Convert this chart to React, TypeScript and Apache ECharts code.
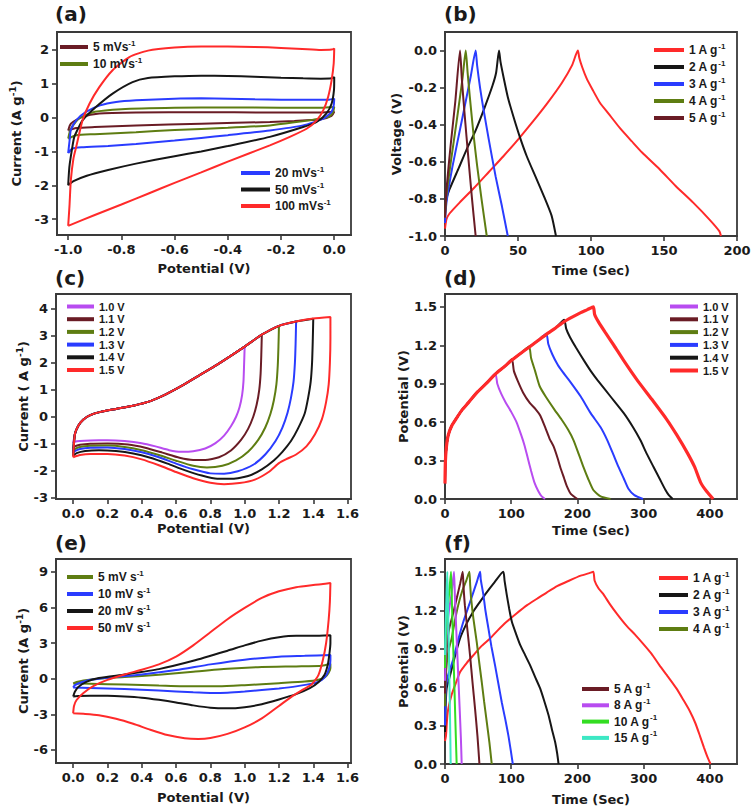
import React, { useEffect, useRef } from 'react';
import * as echarts from 'echarts';

type P = [number, number][];

const RED = '#ff2a2a';
const BLACK = '#161616';
const BLUE = '#2a3cff';
const OLIVE = '#5e7d12';
const BROWN = '#6a1c25';
const PURPLE = '#b84cf0';
const GREEN = '#33dd22';
const CYAN = '#3de8c4';
const TXT = '#1a1a1a';
const AX = '#3a3a3a';
const FONT_TICK = 'DejaVu Sans';
const FONT_TXT = 'Liberation Sans';

// ---------- (a) CV, scan rates ----------
const A_NAMES = ['5 mVs-1', '10 mVs-1', '20 mVs-1', '50 mVs-1', '100 mVs-1'];
const A_5: P = [[-1.0, -0.38], [-0.99, -0.18], [-0.946, 0.02], [-0.883, 0.12], [-0.745, 0.15], [-0.5, 0.16], [-0.25, 0.15], [-0.05, 0.15], [0, 0.17],
  [-0.01, 0.05], [-0.05, -0.05], [-0.15, -0.1], [-0.242, -0.13], [-0.5, -0.18], [-0.745, -0.23], [-0.9, -0.28], [-0.97, -0.31], [-1.0, -0.38]];
const A_10: P = [[-1.0, -0.62], [-0.995, -0.45], [-0.99, -0.33], [-0.96, -0.03], [-0.9, 0.17], [-0.8, 0.25], [-0.6, 0.29], [-0.4, 0.3], [-0.2, 0.29], [-0.05, 0.29], [0, 0.31],
  [-0.005, 0.15], [-0.02, 0.03], [-0.054, -0.03], [-0.15, -0.14], [-0.242, -0.23], [-0.4, -0.3], [-0.6, -0.37], [-0.745, -0.43], [-0.9, -0.49], [-0.97, -0.52], [-1.0, -0.62]];
const A_20: P = [[-1.0, -1.05], [-0.995, -0.7], [-0.99, -0.37], [-0.97, -0.08], [-0.933, 0.17], [-0.88, 0.36], [-0.82, 0.46], [-0.745, 0.51], [-0.6, 0.56], [-0.5, 0.57], [-0.4, 0.56], [-0.3, 0.54], [-0.2, 0.53], [-0.1, 0.53], [-0.02, 0.53], [0, 0.56],
  [-0.002, 0.36], [-0.01, 0.17], [-0.041, -0.03], [-0.117, -0.23], [-0.242, -0.38], [-0.4, -0.52], [-0.5, -0.6], [-0.6, -0.68], [-0.745, -0.78], [-0.85, -0.84], [-0.95, -0.88], [-0.985, -0.92], [-1.0, -1.05]];
const A_50: P = [[-1.0, -2.0], [-0.997, -1.6], [-0.994, -1.36], [-0.985, -0.9], [-0.977, -0.57], [-0.96, -0.28], [-0.946, -0.08], [-0.896, 0.31], [-0.833, 0.71], [-0.758, 1.05], [-0.7, 1.17], [-0.6, 1.22], [-0.5, 1.24], [-0.4, 1.23], [-0.3, 1.21], [-0.2, 1.18], [-0.117, 1.16], [-0.05, 1.15], [-0.01, 1.16], [0, 1.2],
  [-0.001, 0.81], [-0.01, 0.41], [-0.03, 0.12], [-0.066, -0.13], [-0.117, -0.28], [-0.242, -0.57], [-0.4, -0.84], [-0.5, -1.0], [-0.6, -1.14], [-0.745, -1.36], [-0.85, -1.55], [-0.93, -1.72], [-0.98, -1.88], [-1.0, -2.0]];
const A_100: P = [[-1.0, -3.2], [-0.995, -2.6], [-0.99, -1.85], [-0.98, -1.2], [-0.97, -0.87], [-0.946, -0.08], [-0.92, 0.41], [-0.883, 0.9], [-0.833, 1.4], [-0.77, 1.79], [-0.7, 1.98], [-0.6, 2.07], [-0.5, 2.1], [-0.4, 2.1], [-0.3, 2.09], [-0.2, 2.06], [-0.12, 2.03], [-0.05, 2.0], [-0.01, 2.01], [0, 2.04],
  [-0.002, 1.6], [-0.01, 1.1], [-0.023, 0.61], [-0.041, 0.22], [-0.066, -0.08], [-0.104, -0.33], [-0.167, -0.57], [-0.242, -0.82], [-0.4, -1.3], [-0.5, -1.62], [-0.6, -1.93], [-0.7, -2.25], [-0.8, -2.57], [-0.9, -2.88], [-1.0, -3.2]];

// ---------- (b) GCD, negative electrode ----------
const B_NAMES = ['1 A g-1', '2 A g-1', '3 A g-1', '4 A g-1', '5 A g-1'];
const B_1: P = [[0, -0.96], [1, -0.91], [3, -0.88], [10, -0.82], [20, -0.74], [30, -0.655], [40, -0.57], [50, -0.48], [60, -0.385], [70, -0.285], [80, -0.175], [87, -0.08], [91, 0],
  [92, -0.04], [94, -0.09], [97, -0.15], [101, -0.21], [106, -0.28], [112, -0.34], [120, -0.42], [128, -0.49], [135, -0.55], [147, -0.64], [158, -0.73], [170, -0.82], [181, -0.91], [188, -0.975], [189, -1.0]];
const B_2: P = [[0, -0.88], [1, -0.8], [3, -0.75], [9.6, -0.63], [15, -0.53], [21, -0.43], [27, -0.31], [32.5, -0.19], [35, -0.12], [37, 0],
  [38, -0.06], [40, -0.14], [43, -0.25], [47, -0.36], [51, -0.46], [56, -0.57], [62, -0.68], [68, -0.79], [73, -0.89], [76, -1.0]];
const B_3: P = [[0, -0.93], [1, -0.82], [5, -0.63], [12, -0.36], [17.6, -0.14], [21, 0],
  [22, -0.08], [24, -0.2], [26, -0.3], [30, -0.48], [34.7, -0.68], [39, -0.84], [43, -1.0]];
const B_4: P = [[0, -0.9], [1, -0.78], [4, -0.6], [8, -0.38], [12, -0.15], [14.2, 0],
  [15.5, -0.12], [17, -0.25], [19.5, -0.45], [22, -0.62], [25, -0.8], [28.6, -1.0]];
const B_5: P = [[0, -0.9], [1, -0.75], [4, -0.5], [7, -0.28], [10.3, 0],
  [11.5, -0.15], [13.5, -0.35], [16, -0.58], [18.5, -0.8], [21, -1.0]];

// ---------- (c) CV, potential windows ----------
const C_NAMES = ['1.0 V', '1.1 V', '1.2 V', '1.3 V', '1.4 V', '1.5 V'];
const C_UP: P = [[0.01, -0.65], [0.03, -0.33], [0.06, -0.1], [0.1, 0.06], [0.16, 0.18], [0.25, 0.29], [0.35, 0.41], [0.45, 0.58], [0.54, 0.83], [0.64, 1.17], [0.74, 1.55], [0.84, 1.93], [0.93, 2.3], [1.0, 2.6], [1.1, 3.04], [1.2, 3.37], [1.3, 3.53], [1.4, 3.64], [1.5, 3.7]];
const C_10: P = [[1.0, 2.6], [0.997, 2.0], [0.993, 1.3], [0.985, 0.8], [0.97, 0.35], [0.95, 0.0], [0.92, -0.35], [0.88, -0.7], [0.83, -0.98], [0.77, -1.18], [0.7, -1.28], [0.63, -1.3], [0.56, -1.24], [0.48, -1.1], [0.4, -0.98], [0.3, -0.9], [0.2, -0.87], [0.1, -0.88], [0.04, -0.9], [0.01, -0.93], [0, -0.98]];
const C_11: P = [[1.1, 3.04], [1.097, 2.3], [1.093, 1.6], [1.085, 1.0], [1.07, 0.45], [1.05, 0.0], [1.02, -0.45], [0.98, -0.85], [0.92, -1.25], [0.85, -1.5], [0.77, -1.6], [0.7, -1.6], [0.62, -1.52], [0.52, -1.33], [0.42, -1.15], [0.32, -1.03], [0.2, -0.99], [0.1, -1.0], [0.04, -1.04], [0.01, -1.1], [0, -1.18]];
const C_12: P = [[1.2, 3.37], [1.197, 2.6], [1.193, 1.9], [1.185, 1.2], [1.17, 0.6], [1.15, 0.1], [1.12, -0.4], [1.08, -0.85], [1.02, -1.3], [0.95, -1.62], [0.87, -1.82], [0.78, -1.88], [0.7, -1.82], [0.6, -1.63], [0.5, -1.42], [0.4, -1.24], [0.3, -1.12], [0.2, -1.07], [0.1, -1.08], [0.04, -1.12], [0.01, -1.2], [0, -1.28]];
const C_13: P = [[1.3, 3.53], [1.297, 2.7], [1.293, 2.0], [1.285, 1.3], [1.27, 0.7], [1.25, 0.15], [1.22, -0.4], [1.18, -0.9], [1.12, -1.4], [1.05, -1.78], [0.96, -2.02], [0.88, -2.11], [0.8, -2.1], [0.7, -1.95], [0.6, -1.74], [0.5, -1.5], [0.4, -1.32], [0.3, -1.2], [0.2, -1.14], [0.1, -1.15], [0.04, -1.2], [0.01, -1.28], [0, -1.36]];
const C_14: P = [[1.4, 3.63], [1.397, 2.8], [1.393, 2.0], [1.385, 1.3], [1.37, 0.7], [1.35, 0.12], [1.31, -0.45], [1.27, -0.9], [1.22, -1.3], [1.17, -1.62], [1.1, -1.95], [1.02, -2.2], [0.93, -2.3], [0.84, -2.3], [0.75, -2.18], [0.65, -1.98], [0.55, -1.74], [0.45, -1.52], [0.35, -1.36], [0.25, -1.27], [0.15, -1.24], [0.07, -1.27], [0.02, -1.35], [0, -1.45]];
const C_15: P = [[1.5, 3.7], [1.5, 2.9], [1.497, 2.0], [1.49, 1.2], [1.475, 0.55], [1.45, -0.1], [1.41, -0.65], [1.36, -1.1], [1.3, -1.4], [1.24, -1.58], [1.2, -1.72], [1.14, -2.05], [1.06, -2.33], [0.97, -2.46], [0.88, -2.5], [0.8, -2.45], [0.7, -2.28], [0.6, -2.05], [0.5, -1.8], [0.4, -1.58], [0.3, -1.44], [0.2, -1.38], [0.1, -1.38], [0.04, -1.42], [0, -1.5]];

// ---------- (d) GCD, potential windows ----------
const D_NAMES = ['1.0 V', '1.1 V', '1.2 V', '1.3 V', '1.4 V', '1.5 V'];
const D_CHARGE: P = [[0, 0.12], [0.5, 0.28], [2, 0.4], [5, 0.5], [10, 0.57], [16, 0.62], [25, 0.69], [35, 0.75], [48, 0.83], [62, 0.9], [76, 0.975], [90, 1.035], [101, 1.085], [115, 1.14], [127, 1.185], [140, 1.235], [153, 1.285], [167, 1.335], [180, 1.385], [192, 1.42], [205, 1.455], [215, 1.478]];
const D_10: P = [[76, 0.98], [79, 0.9], [85, 0.82], [92, 0.75], [100, 0.68], [108, 0.6], [115, 0.5], [120, 0.42], [125, 0.32], [130, 0.22], [135, 0.13], [141, 0.06], [146, 0.02], [151, 0]];
const D_11: P = [[101, 1.09], [104, 1.0], [110, 0.92], [118, 0.83], [128, 0.75], [137, 0.7], [144, 0.65], [152, 0.55], [158, 0.47], [164, 0.41], [170, 0.32], [174, 0.25], [180, 0.16], [184, 0.1], [190, 0.04], [200, 0]];
const D_12: P = [[127, 1.19], [130, 1.1], [136, 1.0], [143, 0.88], [152, 0.8], [165, 0.7], [176, 0.62], [186, 0.54], [194, 0.46], [202, 0.35], [209, 0.25], [216, 0.16], [224, 0.07], [235, 0.02], [250, 0]];
const D_13: P = [[153, 1.29], [156, 1.21], [162, 1.13], [170, 1.05], [178, 0.99], [187, 0.93], [205, 0.8], [220, 0.67], [235, 0.56], [245, 0.46], [254, 0.35], [262, 0.25], [270, 0.16], [277, 0.08], [286, 0.03], [299, 0]];
const D_14: P = [[180, 1.4], [183, 1.33], [189, 1.26], [198, 1.18], [210, 1.08], [220, 1.0], [230, 0.93], [250, 0.8], [270, 0.67], [284, 0.56], [295, 0.46], [305, 0.35], [315, 0.25], [324, 0.16], [333, 0.07], [338, 0.03], [344, 0]];
const D_15: P = [[224, 1.5], [226, 1.44], [232, 1.38], [242, 1.3], [255, 1.2], [270, 1.08], [290, 0.93], [312, 0.78], [335, 0.62], [350, 0.5], [366, 0.36], [377, 0.25], [386, 0.13], [395, 0.06], [405, 0]];

// ---------- (e) CV, device scan rates ----------
const E_NAMES = ['5 mV s-1', '10 mV s-1', '20 mV s-1', '50 mV s-1'];
const E_5: P = [[0, -0.4], [0.02, -0.28], [0.06, -0.15], [0.15, 0.0], [0.3, 0.13], [0.5, 0.32], [0.7, 0.58], [0.9, 0.83], [1.1, 0.98], [1.3, 1.03], [1.45, 1.08], [1.5, 1.25],
  [1.5, 0.9], [1.49, 0.5], [1.47, 0.15], [1.43, -0.1], [1.35, -0.25], [1.2, -0.38], [1.0, -0.55], [0.85, -0.65], [0.7, -0.65], [0.5, -0.58], [0.3, -0.5], [0.1, -0.43], [0, -0.4]];
const E_10: P = [[0, -0.75], [0.01, -0.55], [0.05, -0.3], [0.1, -0.1], [0.2, 0.08], [0.4, 0.35], [0.6, 0.72], [0.8, 1.2], [1.0, 1.6], [1.2, 1.85], [1.35, 1.92], [1.5, 2.0],
  [1.5, 1.6], [1.495, 1.0], [1.48, 0.4], [1.45, -0.1], [1.4, -0.4], [1.3, -0.65], [1.2, -0.82], [1.1, -0.95], [1.0, -1.08], [0.9, -1.18], [0.8, -1.2], [0.7, -1.15], [0.5, -1.0], [0.3, -0.87], [0.1, -0.78], [0, -0.75]];
const E_20: P = [[0, -1.5], [0.01, -1.1], [0.03, -0.7], [0.08, -0.25], [0.15, 0.05], [0.3, 0.35], [0.5, 0.8], [0.7, 1.5], [0.9, 2.35], [1.0, 2.8], [1.1, 3.2], [1.2, 3.48], [1.3, 3.6], [1.4, 3.6], [1.5, 3.65],
  [1.5, 3.0], [1.495, 2.2], [1.485, 1.2], [1.465, 0.3], [1.43, -0.3], [1.38, -0.8], [1.3, -1.3], [1.2, -1.75], [1.1, -2.15], [1.0, -2.4], [0.9, -2.5], [0.8, -2.45], [0.7, -2.25], [0.6, -2.0], [0.5, -1.78], [0.4, -1.6], [0.3, -1.5], [0.2, -1.45], [0.1, -1.45], [0.03, -1.47], [0, -1.5]];
const E_50: P = [[0, -2.92], [0.005, -2.3], [0.02, -1.8], [0.06, -1.2], [0.12, -0.6], [0.2, -0.1], [0.3, 0.35], [0.4, 0.75], [0.5, 1.2], [0.6, 1.85], [0.7, 2.8], [0.8, 3.9], [0.9, 5.0], [1.0, 5.95], [1.1, 6.8], [1.2, 7.35], [1.3, 7.7], [1.4, 7.88], [1.47, 7.98], [1.5, 8.05],
  [1.497, 6.5], [1.49, 5.0], [1.475, 3.0], [1.455, 1.5], [1.43, 0.3], [1.39, -0.5], [1.33, -1.0], [1.28, -1.45], [1.2, -2.3], [1.1, -3.35], [1.0, -4.1], [0.9, -4.65], [0.8, -5.0], [0.73, -5.08], [0.65, -5.02], [0.55, -4.75], [0.45, -4.3], [0.35, -3.8], [0.25, -3.38], [0.15, -3.08], [0.07, -2.97], [0, -2.92]];

// ---------- (f) GCD, device current densities ----------
const F_NAMES = ['1 A g-1', '2 A g-1', '3 A g-1', '4 A g-1', '5 A g-1', '8 A g-1', '10 A g-1', '15 A g-1'];
const F_1: P = [[0, 0.18], [1.5, 0.22], [4, 0.4], [10, 0.54], [17, 0.64], [23, 0.72], [33, 0.79], [43, 0.85], [55, 0.92], [68, 0.98], [80, 1.045], [93, 1.11], [108, 1.175], [124, 1.24], [139, 1.29], [154, 1.34], [170, 1.39], [187, 1.43], [205, 1.47], [218, 1.49], [224, 1.5],
  [226, 1.43], [232, 1.37], [238.6, 1.33], [248.7, 1.25], [260, 1.17], [274, 1.08], [287, 1.01], [299, 0.94], [312, 0.86], [324, 0.77], [337, 0.68], [349.5, 0.59], [360, 0.5], [370, 0.41], [378, 0.32], [385, 0.22], [391, 0.13], [396, 0.06], [401, 0]];
const F_2: P = [[0, 0.25], [1, 0.45], [2.5, 0.59], [7.6, 0.69], [15, 0.84], [22.7, 0.98], [32, 1.09], [42.8, 1.19], [52, 1.26], [63, 1.34], [75, 1.42], [88, 1.5],
  [90, 1.43], [93.3, 1.32], [97, 1.21], [101, 1.11], [107, 1.02], [113.5, 0.93], [121, 0.85], [128.6, 0.77], [136, 0.68], [143.7, 0.59], [150, 0.49], [156.4, 0.38], [161.5, 0.27], [166.4, 0.17], [169.5, 0.08], [171.5, 0]];
const F_3: P = [[0, 0.3], [1, 0.55], [3, 0.66], [7, 0.73], [12.6, 0.82], [20, 0.97], [27.7, 1.11], [35, 1.22], [42.8, 1.34], [48, 1.42], [53, 1.5],
  [54, 1.44], [56, 1.38], [58, 1.32], [61, 1.2], [65.5, 1.06], [70, 0.92], [75.6, 0.77], [80.5, 0.63], [85.8, 0.48], [91, 0.35], [95.8, 0.22], [99.5, 0.1], [102.4, 0]];
const F_4: P = [[0, 0.45], [1, 0.65], [3, 0.8], [6, 0.9], [10, 0.98], [15, 1.12], [20, 1.24], [26, 1.35], [32, 1.43], [36.8, 1.5],
  [38, 1.4], [39.5, 1.29], [43, 1.13], [48, 0.95], [51.5, 0.8], [55.5, 0.64], [59, 0.49], [63, 0.33], [67, 0.17], [70.6, 0]];
const F_5: P = [[0, 0.55], [1, 0.75], [3, 0.92], [6, 1.05], [12, 1.17], [18, 1.3], [23, 1.41], [26.7, 1.5],
  [28, 1.38], [30, 1.24], [34, 1.04], [37.8, 0.85], [41.5, 0.64], [45.4, 0.43], [49, 0.22], [52, 0]];
const F_8: P = [[0, 0.65], [1, 0.85], [3, 1.05], [6, 1.2], [10, 1.33], [13.6, 1.5],
  [15, 1.3], [17, 1.05], [19.5, 0.75], [22, 0.45], [24, 0.2], [25.2, 0]];
const F_10: P = [[0, 0.75], [1, 0.95], [3, 1.15], [6, 1.32], [9.1, 1.5],
  [10.5, 1.25], [12.5, 0.9], [14.5, 0.55], [16.3, 0.22], [17.6, 0]];
const F_15: P = [[0, 0.85], [1, 1.1], [2.5, 1.35], [3.5, 1.5],
  [4.5, 1.25], [6, 0.85], [7.5, 0.4], [8.6, 0]];

// ---------- tick values ----------
const A_XT = [-1.0, -0.8, -0.6, -0.4, -0.2, 0.0];
const A_YT = [-3, -2, -1, 0, 1, 2];
const B_XT = [0, 50, 100, 150, 200];
const B_YT = [-1.0, -0.8, -0.6, -0.4, -0.2, 0.0];
const C_XT = [0.0, 0.2, 0.4, 0.6, 0.8, 1.0, 1.2, 1.4, 1.6];
const C_YT = [-3, -2, -1, 0, 1, 2, 3, 4];
const D_XT = [0, 100, 200, 300, 400];
const D_YT = [0.0, 0.3, 0.6, 0.9, 1.2, 1.5];
const E_XT = [0.0, 0.2, 0.4, 0.6, 0.8, 1.0, 1.2, 1.4, 1.6];
const E_YT = [-6, -3, 0, 3, 6, 9];
const F_XT = [0, 100, 200, 300, 400];
const F_YT = [0.0, 0.3, 0.6, 0.9, 1.2, 1.5];

const rich = (font: string, fs: number, lh: number) => ({
  t: { fontSize: fs, fontWeight: 'bold', fontFamily: font, color: TXT, lineHeight: lh },
  s: { fontSize: Math.round(fs * 0.68), fontWeight: 'bold', fontFamily: font, color: TXT, lineHeight: Math.round(fs * 0.68), verticalAlign: 'top' },
});

const fmtSup = (name: string) =>
  name.endsWith('-1') ? `{t|${name.slice(0, -2)}}{s|-1}` : `{t|${name}}`;

function xAxis(gi: number, min: number, max: number, ticks: number[], dec: number, name: string, gap: number) {
  return {
    type: 'value', gridIndex: gi, min, max, name, nameLocation: 'middle', nameGap: gap,
    nameTextStyle: { fontFamily: FONT_TICK, fontWeight: 'bold', fontSize: 13, color: TXT },
    axisLine: { show: true, onZero: false, lineStyle: { color: AX, width: 1.8 } },
    axisTick: { show: true, inside: false, length: 5, customValues: ticks, lineStyle: { color: AX, width: 1.6 } },
    axisLabel: { customValues: ticks, formatter: (v: number) => v.toFixed(dec), margin: 8, fontFamily: FONT_TICK, fontWeight: 'bold', fontSize: 13, color: TXT },
    splitLine: { show: false },
  };
}

function yAxis(gi: number, min: number, max: number, ticks: number[], dec: number, name: string, gap: number) {
  return {
    type: 'value', gridIndex: gi, min, max, name, nameLocation: 'middle', nameGap: gap, nameRotate: 90,
    nameTextStyle: { fontFamily: FONT_TICK, fontWeight: 'bold', fontSize: 13, color: TXT, rich: rich(FONT_TICK, 13, 16) },
    axisLine: { show: true, onZero: false, lineStyle: { color: AX, width: 1.8 } },
    axisTick: { show: true, inside: false, length: 5, customValues: ticks, lineStyle: { color: AX, width: 1.6 } },
    axisLabel: { customValues: ticks, formatter: (v: number) => v.toFixed(dec), margin: 8, fontFamily: FONT_TICK, fontWeight: 'bold', fontSize: 13, color: TXT },
    splitLine: { show: false },
  };
}

function grid(left: number, top: number, width: number, height: number) {
  return { left, top, width, height, show: true, borderColor: AX, borderWidth: 1.8, backgroundColor: 'transparent', containLabel: false, outerBoundsMode: 'none' };
}

function line(name: string, data: P, color: string, gi: number, width = 2) {
  return {
    type: 'line', name, data, xAxisIndex: gi, yAxisIndex: gi, showSymbol: false, symbol: 'none',
    smooth: 0.2, lineStyle: { color, width }, itemStyle: { color }, emphasis: { disabled: true },
    silent: true, clip: true,
  };
}

function legend(names: string[], left: number, top: number, fs: number, lh: number, gap: number, iw: number) {
  return {
    data: names, orient: 'vertical', left, top, padding: 0, itemGap: gap, itemWidth: iw, itemHeight: 4,
    icon: 'rect', selectedMode: false, formatter: fmtSup,
    textStyle: { fontFamily: FONT_TXT, fontWeight: 'bold', fontSize: fs, color: TXT, rich: rich(FONT_TXT, fs, lh) },
  };
}

const withUp = (up: P, down: P): P => [down[down.length - 1], ...up.filter((p) => p[0] < down[0][0] - 1e-9), ...down];
const withCharge = (charge: P, down: P): P => [...charge.filter((p) => p[0] < down[0][0] - 1e-9), ...down];

export default function App() {
  const ref = useRef<HTMLDivElement>(null);
  useEffect(() => {
    if (!ref.current) return;
    const chart = echarts.init(ref.current, undefined, { renderer: 'svg' });
    const option: any = {
      animation: false,
      backgroundColor: '#ffffff',
      grid: [
        grid(57, 32, 294, 203),
        grid(445, 32, 292, 204),
        grid(56, 294, 295, 205),
        grid(445, 294, 292, 205),
        grid(56, 559, 295, 204),
        grid(445, 559, 292, 205),
      ],
      xAxis: [
        xAxis(0, -1.042, 0.063, A_XT, 1, 'Potential (V)', 27),
        xAxis(1, 0, 200, B_XT, 0, 'Time (Sec)', 28),
        xAxis(2, -0.1, 1.62, C_XT, 1, 'Potential (V)', 23),
        xAxis(3, 0, 441, D_XT, 0, 'Time (Sec)', 25),
        xAxis(4, -0.1, 1.62, E_XT, 1, 'Potential (V)', 28),
        xAxis(5, 0, 441, F_XT, 0, 'Time (Sec)', 29),
      ],
      yAxis: [
        yAxis(0, -3.47, 2.53, A_YT, 0, '{t|Current (A g}{s|-1}{t|)}', 33),
        yAxis(1, -1.0, 0.1, B_YT, 1, 'Voltage (V)', 42),
        yAxis(2, -3.05, 4.55, C_YT, 0, '{t|Current ( A g}{s|-1}{t|)}', 24),
        yAxis(3, 0, 1.6, D_YT, 1, 'Potential (V)', 32),
        yAxis(4, -7.1, 10.07, E_YT, 0, '{t|Current (A g}{s|-1}{t|)}', 24),
        yAxis(5, 0, 1.6, F_YT, 1, 'Potential (V)', 34),
      ],
      legend: [
        legend([A_NAMES[0], A_NAMES[1]], 60, 39, 12, 16, 3, 28),
        legend([A_NAMES[2], A_NAMES[3], A_NAMES[4]], 241, 165, 12, 16, 2.5, 29),
        legend(B_NAMES, 654, 42, 12, 16, 3, 30),
        legend(C_NAMES, 67, 301, 11, 12, 1.7, 27),
        legend(D_NAMES, 670, 301, 11, 12, 1.8, 28),
        legend(E_NAMES, 67, 569, 12, 16, 3, 26),
        legend([F_NAMES[0], F_NAMES[1], F_NAMES[2], F_NAMES[3]], 659, 570, 12, 16, 3, 29),
        legend([F_NAMES[4], F_NAMES[5], F_NAMES[6], F_NAMES[7]], 582, 681, 12, 16, 2.3, 27),
      ],
      series: [
        line(A_NAMES[0], A_5, BROWN, 0),
        line(A_NAMES[1], A_10, OLIVE, 0),
        line(A_NAMES[2], A_20, BLUE, 0),
        line(A_NAMES[3], A_50, BLACK, 0),
        line(A_NAMES[4], A_100, RED, 0),

        line(B_NAMES[0], B_1, RED, 1),
        line(B_NAMES[1], B_2, BLACK, 1),
        line(B_NAMES[2], B_3, BLUE, 1),
        line(B_NAMES[3], B_4, OLIVE, 1),
        line(B_NAMES[4], B_5, BROWN, 1),

        line(C_NAMES[0], withUp(C_UP, C_10), PURPLE, 2),
        line(C_NAMES[1], withUp(C_UP, C_11), BROWN, 2),
        line(C_NAMES[2], withUp(C_UP, C_12), OLIVE, 2),
        line(C_NAMES[3], withUp(C_UP, C_13), BLUE, 2),
        line(C_NAMES[4], withUp(C_UP, C_14), BLACK, 2),
        line(C_NAMES[5], withUp(C_UP, C_15), RED, 2),

        line(D_NAMES[0], withCharge(D_CHARGE, D_10), PURPLE, 3),
        line(D_NAMES[1], withCharge(D_CHARGE, D_11), BROWN, 3),
        line(D_NAMES[2], withCharge(D_CHARGE, D_12), OLIVE, 3),
        line(D_NAMES[3], withCharge(D_CHARGE, D_13), BLUE, 3),
        line(D_NAMES[4], withCharge(D_CHARGE, D_14), BLACK, 3),
        line(D_NAMES[5], withCharge(D_CHARGE, D_15), RED, 3, 3.2),

        line(E_NAMES[0], E_5, OLIVE, 4),
        line(E_NAMES[1], E_10, BLUE, 4),
        line(E_NAMES[2], E_20, BLACK, 4),
        line(E_NAMES[3], E_50, RED, 4),

        line(F_NAMES[0], F_1, RED, 5),
        line(F_NAMES[1], F_2, BLACK, 5),
        line(F_NAMES[2], F_3, BLUE, 5),
        line(F_NAMES[3], F_4, OLIVE, 5),
        line(F_NAMES[4], F_5, BROWN, 5),
        line(F_NAMES[5], F_8, PURPLE, 5),
        line(F_NAMES[6], F_10, GREEN, 5),
        line(F_NAMES[7], F_15, CYAN, 5),
      ],
      graphic: [
        { type: 'text', left: 55, top: 4, style: { text: '(a)', font: 'bold 20px "DejaVu Sans"', fill: TXT } },
        { type: 'text', left: 444, top: 4, style: { text: '(b)', font: 'bold 20px "DejaVu Sans"', fill: TXT } },
        { type: 'text', left: 55, top: 268, style: { text: '(c)', font: 'bold 20px "DejaVu Sans"', fill: TXT } },
        { type: 'text', left: 444, top: 268, style: { text: '(d)', font: 'bold 20px "DejaVu Sans"', fill: TXT } },
        { type: 'text', left: 55, top: 533, style: { text: '(e)', font: 'bold 20px "DejaVu Sans"', fill: TXT } },
        { type: 'text', left: 444, top: 533, style: { text: '(f)', font: 'bold 20px "DejaVu Sans"', fill: TXT } },
      ],
    };
    chart.setOption(option);
    return () => chart.dispose();
  }, []);
  return <div ref={ref} style={{ position: 'absolute', left: 0, top: 0, width: 752, height: 808 }} />;
}
